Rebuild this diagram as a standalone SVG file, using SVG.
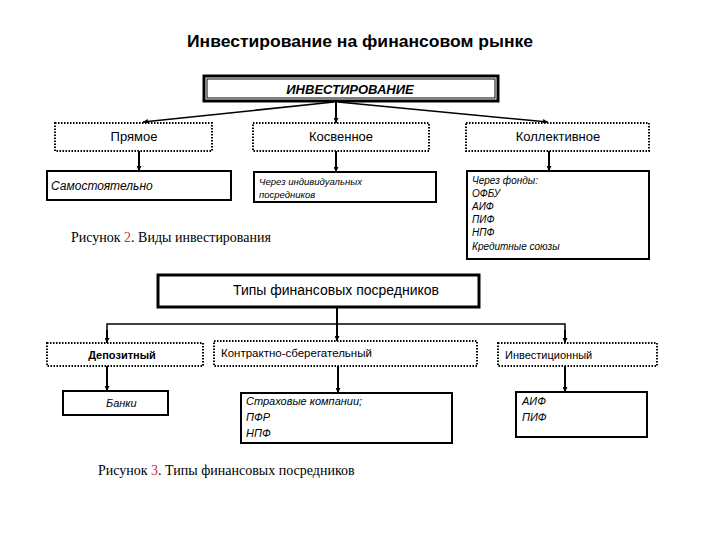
<svg xmlns="http://www.w3.org/2000/svg" width="720" height="540" viewBox="0 0 720 540">
<defs>
<marker id="ah" viewBox="0 0 10 10" refX="10" refY="5" markerWidth="5" markerHeight="5" orient="auto-start-reverse" markerUnits="userSpaceOnUse">
<path d="M0,0 L10,5 L0,10 z" fill="#000"/>
</marker>
<style>
.t{font-family:"Liberation Sans","Open Sans",sans-serif;fill:#000}
.tb{font-family:"Liberation Sans",sans-serif;font-weight:bold;fill:#000}
.ti{font-family:"Liberation Sans",sans-serif;font-style:italic;fill:#000}
.cap{font-family:"Liberation Serif","Times New Roman",serif;font-size:14px;fill:#000}
.red{fill:#d03030}
.dot{fill:#fff;stroke:#000;stroke-width:2;stroke-dasharray:1.5 1.5}
.sol{fill:#fff;stroke:#000;stroke-width:2}
.thick{fill:#fff;stroke:#000;stroke-width:3}
.ln{fill:none;stroke:#000;stroke-width:1.5}
.ar{fill:none;stroke:#000;stroke-width:2;marker-end:url(#ah)}
</style>
</defs>
<rect width="720" height="540" fill="#fff"/>
<text class="t" x="360" y="47" font-size="17" text-anchor="middle" textLength="346" lengthAdjust="spacingAndGlyphs" style="font-weight:bold">Инвестирование на финансовом рынке</text>

<g id="connectors">
<line class="ln" x1="334" y1="102" x2="143" y2="122" marker-end="url(#ah)"/>
<line class="ar" x1="336" y1="102" x2="336" y2="123"/>
<line class="ln" x1="338" y1="102" x2="548" y2="122" marker-end="url(#ah)"/>
<line class="ar" x1="139" y1="151" x2="139" y2="171"/>
<line class="ar" x1="336" y1="151" x2="336" y2="172"/>
<line class="ar" x1="549" y1="151" x2="549" y2="171"/>
<line class="ar" x1="337" y1="307" x2="337" y2="341"/>
<polyline class="ln" points="107,341 107,324 565,324 565,341"/>
<line class="ar" x1="107" y1="330" x2="107" y2="343"/>
<line class="ar" x1="565" y1="330" x2="565" y2="343"/>
<line class="ar" x1="107" y1="366" x2="107" y2="391"/>
<line class="ar" x1="338" y1="366" x2="338" y2="393"/>
<line class="ar" x1="565" y1="366" x2="565" y2="392"/>
</g>

<g id="investirovanie">
<rect x="204" y="76" width="294" height="25" fill="#fff" stroke="#000" stroke-width="3"/>
<rect x="207" y="79" width="288" height="19" fill="none" stroke="#000" stroke-width="1"/>
<text class="tb" x="350" y="94" font-size="13" text-anchor="middle" style="font-style:italic">ИНВЕСТИРОВАНИЕ</text>
</g>
<g id="pryamoe">
<rect class="dot" x="55" y="123" width="157" height="28"/>
<text class="t" x="134" y="141" font-size="13" text-anchor="middle">Прямое</text>
</g>
<g id="kosvennoe">
<rect class="dot" x="253" y="123" width="176" height="28"/>
<text class="t" x="341" y="141" font-size="13" text-anchor="middle">Косвенное</text>
</g>
<g id="kollektivnoe">
<rect class="dot" x="466" y="123" width="183" height="28"/>
<text class="t" x="558" y="141" font-size="13" text-anchor="middle">Коллективное</text>
</g>
<g id="samostoyatelno">
<rect class="sol" x="47" y="171" width="184" height="29"/>
<text class="ti" x="51" y="190" font-size="12">Самостоятельно</text>
</g>
<g id="cherez-individ">
<rect class="sol" x="254" y="172" width="182" height="30"/>
<text class="ti" x="259" y="185" font-size="9.5">Через индивидуальных</text>
<text class="ti" x="259" y="198" font-size="9.5">посредников</text>
</g>
<g id="cherez-fondy">
<rect class="sol" x="467" y="171" width="182" height="88"/>
<text class="ti" font-size="10"><tspan x="472" y="184">Через фонды:</tspan><tspan x="472" y="197">ОФБУ</tspan><tspan x="472" y="210">АИФ</tspan><tspan x="472" y="223">ПИФ</tspan><tspan x="472" y="236">НПФ</tspan><tspan x="472" y="250">Кредитные союзы</tspan></text>
</g>
<text class="cap" x="71" y="242">Рисунок <tspan class="red">2</tspan>. Виды инвестирования</text>

<g id="tipy">
<rect class="thick" x="158" y="275" width="321" height="32"/>
<text class="t" x="336" y="295" font-size="14" text-anchor="middle">Типы финансовых посредников</text>
</g>
<g id="depozitny">
<rect class="dot" x="47" y="343" width="156" height="23"/>
<text class="tb" x="122" y="359" font-size="11" text-anchor="middle">Депозитный</text>
</g>
<g id="kontraktno">
<rect class="dot" x="214" y="341" width="263" height="25"/>
<text class="t" x="221" y="357" font-size="11.5">Контрактно-сберегательный</text>
</g>
<g id="investicionny">
<rect class="dot" x="498" y="343" width="159" height="23"/>
<text class="t" x="505" y="359" font-size="11">Инвестиционный</text>
</g>
<g id="banki">
<rect class="sol" x="63" y="391" width="105" height="24"/>
<text class="ti" x="106" y="407" font-size="11">Банки</text>
</g>
<g id="strahovye">
<rect class="sol" x="241" y="393" width="211" height="50"/>
<text class="ti" font-size="11"><tspan x="246" y="405">Страховые компании;</tspan><tspan x="246" y="421">ПФР</tspan><tspan x="246" y="437">НПФ</tspan></text>
</g>
<g id="aif-pif">
<rect class="sol" x="516" y="392" width="131" height="45"/>
<text class="ti" font-size="11"><tspan x="522" y="405">АИФ</tspan><tspan x="522" y="421">ПИФ</tspan></text>
</g>
<text class="cap" x="98" y="475">Рисунок <tspan class="red">3</tspan>. Типы финансовых посредников</text>
</svg>
